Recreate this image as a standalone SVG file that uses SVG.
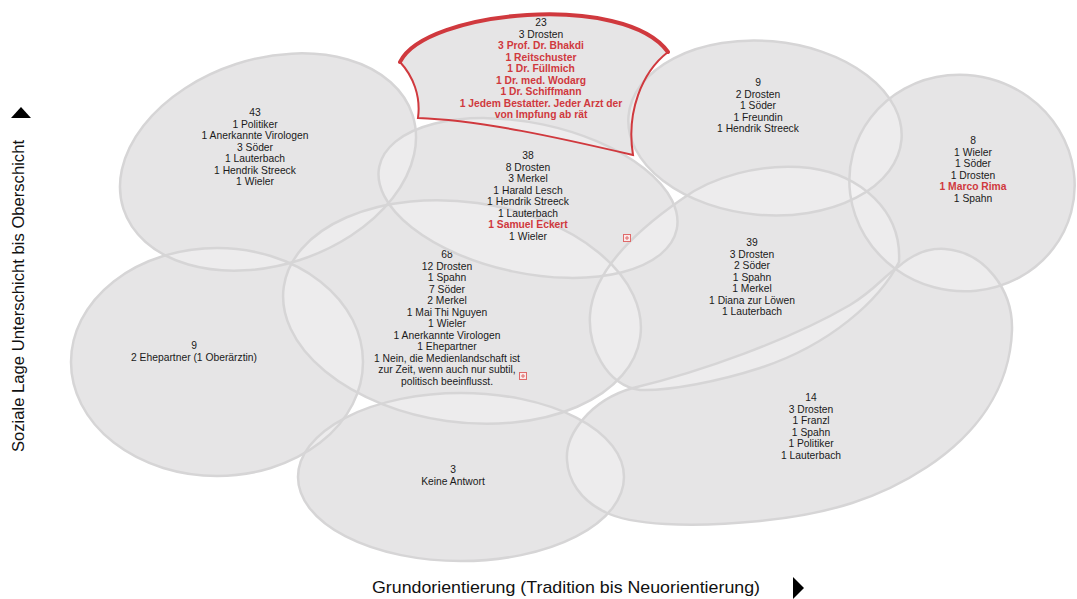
<svg xmlns="http://www.w3.org/2000/svg" xmlns:xlink="http://www.w3.org/1999/xlink" width="1077" height="599" viewBox="0 0 1077 599">
<style>
text{font-family:"Liberation Sans",Arial,sans-serif;font-size:10.3px;fill:#1a1a1a;text-anchor:middle}
text .r{fill:#d0393e;font-weight:bold}
.base{fill:#dddbdd}
.lite{fill:#fff;fill-opacity:.28}
.ol{fill:none;stroke:#d6d5d6;stroke-width:2.5}
text.axis{font-size:17px;fill:#111}
.plus{fill:#fbeaea;stroke:#e06a6a;stroke-width:1}
</style>
<defs>
<ellipse id="s43" cx="268" cy="162" rx="152" ry="103" transform="rotate(-18 268 162)"/>
<ellipse id="s9l" cx="217" cy="362" rx="146" ry="114"/>
<ellipse id="s3" cx="461" cy="477" rx="163" ry="84"/>
<path id="s14" d="M567,460 C565,435 590,400 633,388 C700,372 790,340 850,305 C875,290 885,275 898,267 C915,252 930,248 945,249 C985,252 1013,290 1012,330 C1010,390 975,435 927,467 C880,498 830,514 760,521 C690,528 630,525 605,512 C580,500 568,480 567,460 Z"/>
<ellipse id="s68" cx="462" cy="312" rx="180" ry="110" transform="rotate(8 462 312)"/>
<path id="s39" d="M682,199 C710,178 760,162 810,168 C860,175 902,210 899,262 C880,300 830,345 760,368 C720,381 670,391 640,390 C605,385 588,345 590,315 C593,270 640,228 682,199 Z"/>
<ellipse id="s38" cx="528" cy="198" rx="152" ry="75" transform="rotate(12 528 198)"/>
<ellipse id="s9r" cx="765" cy="128" rx="137" ry="87" transform="rotate(5 765 128)"/>
<ellipse id="s8" cx="962" cy="183" rx="113" ry="108" transform="rotate(15 962 183)"/>
<path id="s23" d="M400,62 C425,10 625,-8 668,52 C642,72 626,112 633,155 C560,138 480,120 418,118 C421,96 413,76 400,62 Z"/>
</defs>
<g id="fills">
<use href="#s43" class="base"/><use href="#s9l" class="base"/><use href="#s3" class="base"/><use href="#s14" class="base"/><use href="#s68" class="base"/><use href="#s39" class="base"/><use href="#s38" class="base"/><use href="#s9r" class="base"/><use href="#s8" class="base"/><use href="#s23" class="base"/>
<use href="#s43" class="lite"/><use href="#s9l" class="lite"/><use href="#s3" class="lite"/><use href="#s14" class="lite"/><use href="#s68" class="lite"/><use href="#s39" class="lite"/><use href="#s38" class="lite"/><use href="#s9r" class="lite"/><use href="#s8" class="lite"/><use href="#s23" class="lite"/>
</g>
<g id="node-43"><use href="#s43" class="ol"/>
<text x="255" y="116">43<tspan x="255" dy="11.5">1 Politiker</tspan><tspan x="255" dy="11.5">1 Anerkannte Virologen</tspan><tspan x="255" dy="11.5">3 Söder</tspan><tspan x="255" dy="11.5">1 Lauterbach</tspan><tspan x="255" dy="11.5">1 Hendrik Streeck</tspan><tspan x="255" dy="11.5">1 Wieler</tspan></text></g>
<g id="node-9-left"><use href="#s9l" class="ol"/>
<text x="194" y="349">9<tspan x="194" dy="11.5">2 Ehepartner (1 Oberärztin)</tspan></text></g>
<g id="node-3"><use href="#s3" class="ol"/>
<text x="453" y="473">3<tspan x="453" dy="11.5">Keine Antwort</tspan></text></g>
<g id="node-14"><use href="#s14" class="ol"/>
<text x="811" y="401">14<tspan x="811" dy="11.5">3 Drosten</tspan><tspan x="811" dy="11.5">1 Franzl</tspan><tspan x="811" dy="11.5">1 Spahn</tspan><tspan x="811" dy="11.5">1 Politiker</tspan><tspan x="811" dy="11.5">1 Lauterbach</tspan></text></g>
<g id="node-68"><use href="#s68" class="ol"/>
<text x="447" y="258">68<tspan x="447" dy="11.5">12 Drosten</tspan><tspan x="447" dy="11.5">1 Spahn</tspan><tspan x="447" dy="11.5">7 Söder</tspan><tspan x="447" dy="11.5">2 Merkel</tspan><tspan x="447" dy="11.5">1 Mai Thi Nguyen</tspan><tspan x="447" dy="11.5">1 Wieler</tspan><tspan x="447" dy="11.5">1 Anerkannte Virologen</tspan><tspan x="447" dy="11.5">1 Ehepartner</tspan><tspan x="447" dy="11.5">1 Nein, die Medienlandschaft ist</tspan><tspan x="447" dy="11.5">zur Zeit, wenn auch nur subtil,</tspan><tspan x="447" dy="11.5">politisch beeinflusst.</tspan></text>
<rect class="plus" x="519.5" y="372.5" width="7" height="7"/><path d="M523,374v4M521,376h4" stroke="#e06a6a" stroke-width="1"/></g>
<g id="node-39"><use href="#s39" class="ol"/>
<text x="752" y="246">39<tspan x="752" dy="11.5">3 Drosten</tspan><tspan x="752" dy="11.5">2 Söder</tspan><tspan x="752" dy="11.5">1 Spahn</tspan><tspan x="752" dy="11.5">1 Merkel</tspan><tspan x="752" dy="11.5">1 Diana zur Löwen</tspan><tspan x="752" dy="11.5">1 Lauterbach</tspan></text></g>
<g id="node-38"><use href="#s38" class="ol"/>
<text x="528" y="159">38<tspan x="528" dy="11.5">8 Drosten</tspan><tspan x="528" dy="11.5">3 Merkel</tspan><tspan x="528" dy="11.5">1 Harald Lesch</tspan><tspan x="528" dy="11.5">1 Hendrik Streeck</tspan><tspan x="528" dy="11.5">1 Lauterbach</tspan><tspan x="528" dy="11.5" class="r">1 Samuel Eckert</tspan><tspan x="528" dy="11.5">1 Wieler</tspan></text>
<rect class="plus" x="623.5" y="234.5" width="7" height="7"/><path d="M627,236v4M625,238h4" stroke="#e06a6a" stroke-width="1"/></g>
<g id="node-9-right"><use href="#s9r" class="ol"/>
<text x="758" y="86">9<tspan x="758" dy="11.5">2 Drosten</tspan><tspan x="758" dy="11.5">1 Söder</tspan><tspan x="758" dy="11.5">1 Freundin</tspan><tspan x="758" dy="11.5">1 Hendrik Streeck</tspan></text></g>
<g id="node-8"><use href="#s8" class="ol"/>
<text x="973" y="144">8<tspan x="973" dy="11.5">1 Wieler</tspan><tspan x="973" dy="11.5">1 Söder</tspan><tspan x="973" dy="11.5">1 Drosten</tspan><tspan x="973" dy="11.5" class="r">1 Marco Rima</tspan><tspan x="973" dy="11.5">1 Spahn</tspan></text></g>
<g id="node-23"><use href="#s23" fill="none" stroke="#d0393e" stroke-width="2"/>
<path d="M400,62 C425,10 625,-8 668,52" fill="none" stroke="#d0393e" stroke-width="4" stroke-linecap="round"/>
<text x="541" y="26">23<tspan x="541" dy="11.5">3 Drosten</tspan><tspan x="541" dy="11.5" class="r">3 Prof. Dr. Bhakdi</tspan><tspan x="541" dy="11.5" class="r">1 Reitschuster</tspan><tspan x="541" dy="11.5" class="r">1 Dr. Füllmich</tspan><tspan x="541" dy="11.5" class="r">1 Dr. med. Wodarg</tspan><tspan x="541" dy="11.5" class="r">1 Dr. Schiffmann</tspan><tspan x="541" dy="11.5" class="r">1 Jedem Bestatter. Jeder Arzt der</tspan><tspan x="541" dy="11.5" class="r">von Impfung ab rät</tspan></text></g>
<g id="axes">
<path d="M11,118 L21,107 L31,118 Z" fill="#000"/>
<text class="axis" transform="translate(24,296) rotate(-90)" textLength="312" lengthAdjust="spacingAndGlyphs">Soziale Lage Unterschicht bis Oberschicht</text>
<text class="axis" x="566" y="593" textLength="388" lengthAdjust="spacingAndGlyphs">Grundorientierung (Tradition bis Neuorientierung)</text>
<path d="M793,577 L804,588 L793,599 Z" fill="#000"/>
</g>
</svg>
